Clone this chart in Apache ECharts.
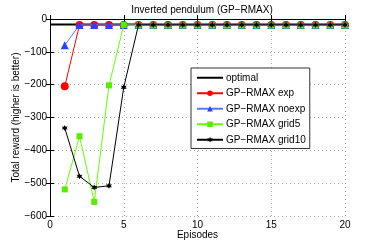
<!DOCTYPE html>
<html><head><meta charset="utf-8">
<script src="https://cdn.jsdelivr.net/npm/echarts@6/dist/echarts.min.js"></script>
<style>html,body{margin:0;padding:0;background:#fff}#c{width:382px;height:243px}</style>
</head><body><div id="c"></div>
<script>
const episodes = [1,2,3,4,5,6,7,8,9,10,11,12,13,14,15,16,17,18,19,20];
const optimalX = [0,1,2,3,4,5,6,7,8,9,10,11,12,13,14,15,16,17,18,19,20];
const optimal = [-17,-17,-17,-17,-17,-17,-17,-17,-17,-17,-17,-17,-17,-17,-17,-17,-17,-17,-17,-17,-17];
const exp = [-205,-18,-18,-18,-18,-18,-18,-18,-18,-18,-18,-18,-18,-18,-18,-18,-18,-18,-18,-18];
const noexp = [-80,-18,-18,-18,-18,-18,-18,-18,-18,-18,-18,-18,-18,-18,-18,-18,-18,-18,-18,-18];
const grid5 = [-519,-357,-557,-202,-18,-20,-20,-20,-20,-20,-20,-20,-20,-20,-20,-20,-20,-20,-20,-20];
const grid10 = [-332,-479,-513,-508,-208,-18,-18,-18,-18,-18,-18,-18,-18,-18,-18,-18,-18,-18,-18,-18];
const xTicks = [0,5,10,15,20];
const yTicks = [-600,-500,-400,-300,-200,-100,0];

const pair = (xs, ys) => xs.map((x,i)=>[x, ys[i]]);
const star = 'path://M0,-10L2.6,-4.5L8.7,-5L5.2,0L8.7,5L2.6,4.5L0,10L-2.6,4.5L-8.7,5L-5.2,0L-8.7,-5L-2.6,-4.5Z';
const font = 'Liberation Sans, Arial, sans-serif';
const fmt = v => String(v).replace('-', '\u2212');

const chart = echarts.init(document.getElementById('c'), null, {renderer:'canvas'});
chart.setOption({
  animation:false,
  backgroundColor:'#fff',
  textStyle:{fontFamily:font},
  title:{text:'Inverted pendulum (GP\u2212RMAX)', left:197, top:0, textAlign:'center',
    textStyle:{fontSize:10, fontWeight:'normal', color:'#000', fontFamily:font}},
  grid:{left:50, right:37, top:19, bottom:27, outerBoundsMode:'none', containLabel:false},
  legend:{
    orient:'vertical', left:191, top:68,
    padding:[4,4,3,5], itemGap:4, itemWidth:26, itemHeight:7,
    backgroundColor:'#fff', borderColor:'#333', borderWidth:1, borderRadius:0,
    textStyle:{fontSize:10, color:'#000', fontFamily:font, padding:[0,0,0,-2], lineHeight:11.5},
    data:[
      {name:'optimal', itemStyle:{color:'rgba(0,0,0,0)', borderWidth:0, opacity:0}},
      'GP\u2212RMAX exp','GP\u2212RMAX noexp','GP\u2212RMAX grid5','GP\u2212RMAX grid10']
  },
  xAxis:[{
    type:'value', min:0, max:20, interval:5,
    name:'Episodes', nameLocation:'middle', nameGap:14, nameMoveOverlap:false,
    nameTextStyle:{fontSize:10, color:'#000', fontFamily:font},
    axisLine:{show:true, lineStyle:{color:'#000', width:1}},
    axisTick:{inside:true, length:4, lineStyle:{color:'#000'}},
    axisLabel:{fontSize:10, color:'#000', margin:4, fontFamily:font},
    splitLine:{show:true, lineStyle:{color:'#aaa', type:[1,3], width:1}}
  },{
    type:'value', min:0, max:20, interval:5, position:'top',
    axisLine:{show:true, lineStyle:{color:'#000'}},
    axisTick:{inside:true, length:4, lineStyle:{color:'#000'}},
    axisLabel:{show:false}, splitLine:{show:false}
  }],
  yAxis:[{
    type:'value', min:-600, max:0, interval:100,
    name:'Total reward (higher is better)', nameLocation:'middle', nameGap:29, nameMoveOverlap:false,
    nameTextStyle:{fontSize:10, color:'#000', fontFamily:font},
    axisLine:{show:true, lineStyle:{color:'#000', width:1}},
    axisTick:{inside:true, length:4, lineStyle:{color:'#000'}},
    axisLabel:{fontSize:10, color:'#000', margin:3, fontFamily:font, formatter:fmt},
    splitLine:{show:true, lineStyle:{color:'#aaa', type:[1,3], width:1}}
  },{
    type:'value', min:-600, max:0, interval:100, position:'right',
    axisLine:{show:true, lineStyle:{color:'#000'}},
    axisTick:{inside:true, length:4, lineStyle:{color:'#000'}},
    axisLabel:{show:false}, splitLine:{show:false}
  }],
  series:[
    {name:'optimal', type:'line', data:pair(optimalX, optimal), symbol:'none',
      lineStyle:{color:'#000', width:2}, itemStyle:{color:'#000'}, z:2},
    {name:'GP\u2212RMAX exp', type:'line', data:pair(episodes, exp), symbol:'circle', symbolSize:8,
      lineStyle:{color:'#ff0000', width:1}, itemStyle:{color:'#ff0000'}, z:3},
    {name:'GP\u2212RMAX noexp', type:'line', data:pair(episodes, noexp), symbol:'triangle', symbolSize:8,
      lineStyle:{color:'#5577ff', width:1}, itemStyle:{color:'#2244ff'}, z:4},
    {name:'GP\u2212RMAX grid5', type:'line', data:pair(episodes, grid5), symbol:'rect', symbolSize:6,
      lineStyle:{color:'#66ff00', width:1}, itemStyle:{color:'#55ee00'}, z:5},
    {name:'GP\u2212RMAX grid10', type:'line', data:pair(episodes, grid10), symbol:star, symbolSize:6,
      lineStyle:{color:'#000', width:1}, itemStyle:{color:'#000'}, z:6}
  ]
});
</script></body></html>
